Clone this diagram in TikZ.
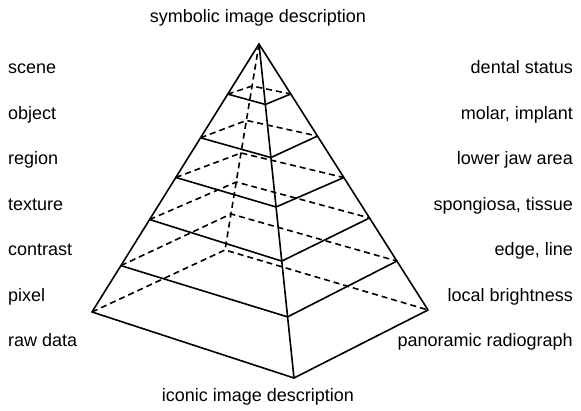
\documentclass[tikz,border=0pt]{standalone}
\usepackage{fontspec}
\setmainfont{Liberation Sans}
\usetikzlibrary{calc}
\begin{document}
\begin{tikzpicture}[x=1pt,y=-1pt,
  lbl/.style={font=\fontsize{18}{21}\selectfont, inner sep=0pt},
  frontline/.style={line width=1.6pt, line join=round, line cap=round},
  hiddenline/.style={line width=1.6pt, dash pattern=on 6pt off 4pt, line join=round}]
\useasboundingbox (0,0) rectangle (581,411);
% apex and base
\coordinate (A) at (259,44);
\coordinate (L0) at (92,312);
\coordinate (F0) at (294,378);
\coordinate (R0) at (428,310);
\coordinate (B0) at (225,250);
% cut levels
\foreach \i/\tl/\tf/\tr/\tb in {1/0.187/0.181/0.188/0.204, 2/0.350/0.340/0.346/0.371, 3/0.498/0.488/0.502/0.529, 4/0.655/0.650/0.654/0.670, 5/0.827/0.817/0.816/0.825}{
  \coordinate (L\i) at ($(A)!\tl!(L0)$);
  \coordinate (F\i) at ($(A)!\tf!(F0)$);
  \coordinate (R\i) at ($(A)!\tr!(R0)$);
  \coordinate (B\i) at ($(A)!\tb!(B0)$);
}
% hidden lines
\draw[hiddenline] (A) -- (B0);
\draw[hiddenline] (L0) -- (B0) -- (R0);
\foreach \i in {1,...,5}{
  \draw[hiddenline] (L\i) -- (B\i) -- (R\i);
}
% visible lines
\draw[frontline] (A) -- (L0) -- (F0) -- (R0) -- cycle;
\draw[frontline] (A) -- (F0);
\foreach \i in {1,...,5}{
  \draw[frontline] (L\i) -- (F\i) -- (R\i);
}
% labels
\node[lbl, anchor=base] (top) at (258,23) {symbolic image description};
\node[lbl, anchor=base] (bottom) at (258,402) {iconic image description};
\node[lbl, anchor=base west] (l1) at (8,74) {scene};
\node[lbl, anchor=base west] (l2) at (8,119.5) {object};
\node[lbl, anchor=base west] (l3) at (8,165) {region};
\node[lbl, anchor=base west] (l4) at (8,210.5) {texture};
\node[lbl, anchor=base west] (l5) at (8,256) {contrast};
\node[lbl, anchor=base west] (l6) at (8,301.5) {pixel};
\node[lbl, anchor=base west] (l7) at (8,347) {raw data};
\node[lbl, anchor=base east] (r1) at (573,74) {dental status};
\node[lbl, anchor=base east] (r2) at (573,119.5) {molar, implant};
\node[lbl, anchor=base east] (r3) at (573,165) {lower jaw area};
\node[lbl, anchor=base east] (r4) at (573,210.5) {spongiosa, tissue};
\node[lbl, anchor=base east] (r5) at (573,256) {edge, line};
\node[lbl, anchor=base east] (r6) at (573,301.5) {local brightness};
\node[lbl, anchor=base east] (r7) at (573,347) {panoramic radiograph};
\end{tikzpicture}
\end{document}
